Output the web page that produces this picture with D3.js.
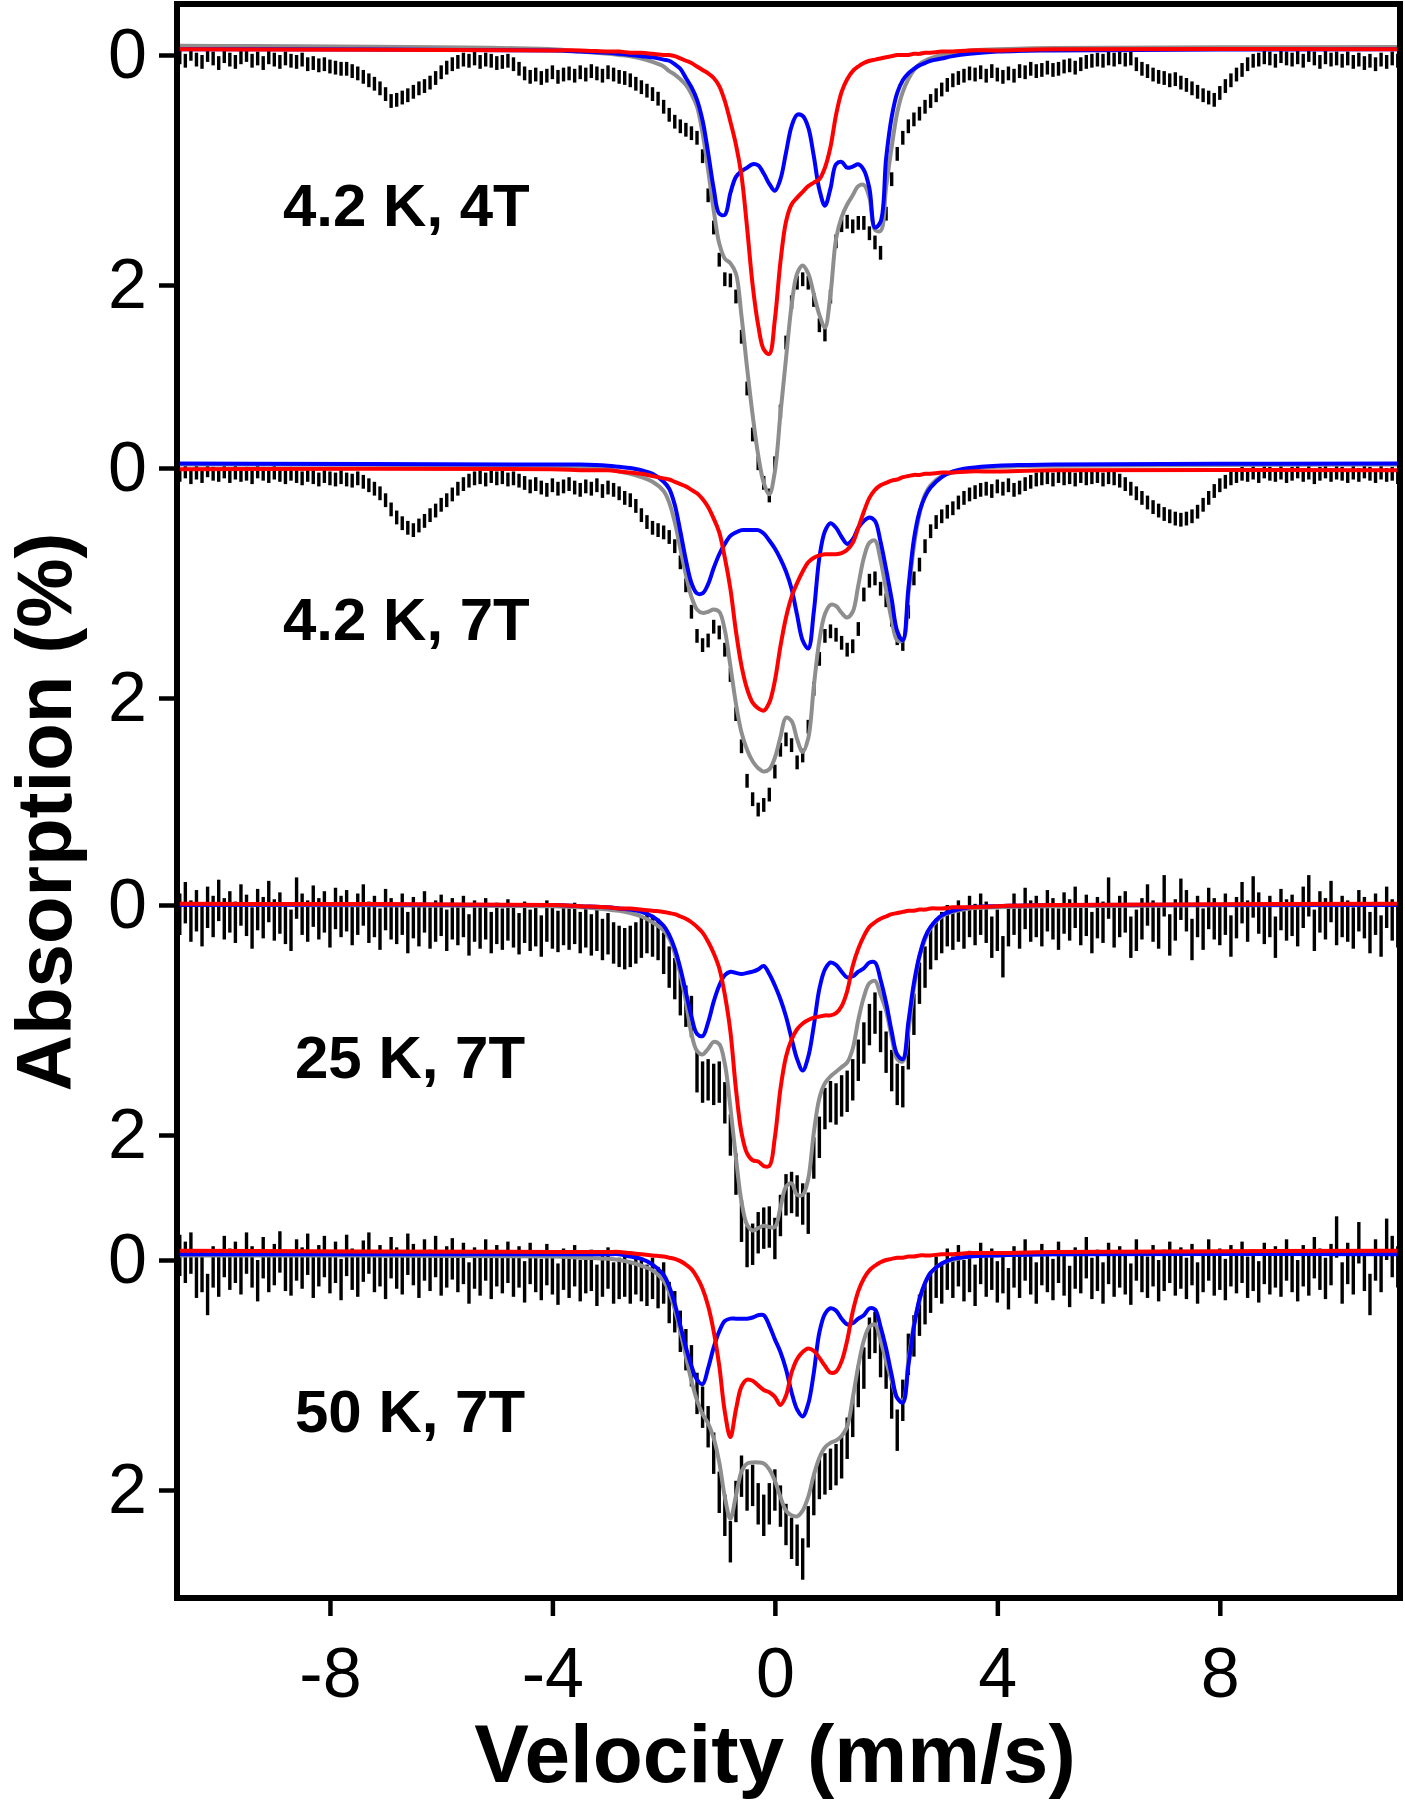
<!DOCTYPE html>
<html>
<head>
<meta charset="utf-8">
<script src="https://cdn.jsdelivr.net/npm/d3@7"></script>
<style>
  body { margin: 0; background: #fff; }
  svg { display: block; }
</style>
</head>
<body>
<div id="container"></div>
<script>
const width = 1405,
      height = 1800,
      frame = { left: 177, right: 1400, top: 4, bottom: 1598 };

const FONT = "'Liberation Sans', Arial, Helvetica, sans-serif";

// ---- data ----
const panelLabels = ["4.2 K, 4T", "4.2 K, 7T", "25 K, 7T", "50 K, 7T"];
const xTicks = [-8, -4, 0, 4, 8];
const yTicks = [0, 2];
const errorBar = [0.06, 0.06, 0.18, 0.18];   // half length of the bars (%)

// channel velocities (mm/s)
const velocity = [
  -10.7,-10.6,-10.5,-10.4,-10.3,-10.2,-10.1,-10.0,-9.9,-9.8,
  -9.7,-9.6,-9.5,-9.4,-9.3,-9.2,-9.1,-9.0,-8.9,-8.8,
  -8.7,-8.6,-8.5,-8.4,-8.3,-8.2,-8.1,-8.0,-7.9,-7.8,
  -7.7,-7.6,-7.5,-7.4,-7.3,-7.2,-7.1,-7.0,-6.9,-6.8,
  -6.7,-6.6,-6.5,-6.4,-6.3,-6.2,-6.1,-6.0,-5.9,-5.8,
  -5.7,-5.6,-5.5,-5.4,-5.3,-5.2,-5.1,-5.0,-4.9,-4.8,
  -4.7,-4.6,-4.5,-4.4,-4.3,-4.2,-4.1,-4.0,-3.9,-3.8,
  -3.7,-3.6,-3.5,-3.4,-3.3,-3.2,-3.1,-3.0,-2.9,-2.8,
  -2.7,-2.6,-2.5,-2.4,-2.3,-2.2,-2.1,-2.0,-1.9,-1.8,
  -1.7,-1.6,-1.5,-1.4,-1.3,-1.2,-1.1,-1.0,-0.9,-0.8,
  -0.7,-0.6,-0.5,-0.4,-0.3,-0.2,-0.1,0.0,0.1,0.2,
  0.3,0.4,0.5,0.6,0.7,0.8,0.9,1.0,1.1,1.2,
  1.3,1.4,1.5,1.6,1.7,1.8,1.9,2.0,2.1,2.2,
  2.3,2.4,2.5,2.6,2.7,2.8,2.9,3.0,3.1,3.2,
  3.3,3.4,3.5,3.6,3.7,3.8,3.9,4.0,4.1,4.2,
  4.3,4.4,4.5,4.6,4.7,4.8,4.9,5.0,5.1,5.2,
  5.3,5.4,5.5,5.6,5.7,5.8,5.9,6.0,6.1,6.2,
  6.3,6.4,6.5,6.6,6.7,6.8,6.9,7.0,7.1,7.2,
  7.3,7.4,7.5,7.6,7.7,7.8,7.9,8.0,8.1,8.2,
  8.3,8.4,8.5,8.6,8.7,8.8,8.9,9.0,9.1,9.2,
  9.3,9.4,9.5,9.6,9.7,9.8,9.9,10.0,10.1,10.2,
  10.3,10.4,10.5,10.6,10.7,10.8,10.9,11.0,11.1,11.2
];

// measured absorption (%)
const data42K4T = [
  0.02,0.05,-0.01,0.04,0.06,0.00,0.03,0.07,0.01,0.04,
  0.06,0.02,0.00,0.05,0.03,0.07,0.02,0.04,0.06,0.03,
  0.05,0.06,0.04,0.08,0.07,0.09,0.08,0.10,0.11,0.12,
  0.12,0.14,0.16,0.19,0.22,0.25,0.29,0.34,0.40,0.39,
  0.37,0.35,0.32,0.29,0.27,0.24,0.20,0.15,0.11,0.08,
  0.06,0.04,0.05,0.03,0.06,0.04,0.05,0.07,0.06,0.05,
  0.08,0.12,0.16,0.19,0.17,0.20,0.18,0.15,0.19,0.17,
  0.16,0.18,0.15,0.17,0.14,0.16,0.18,0.15,0.17,0.19,
  0.20,0.22,0.25,0.28,0.31,0.34,0.38,0.45,0.52,0.58,
  0.62,0.65,0.68,0.72,0.88,1.22,1.50,1.78,1.95,1.96,
  2.10,2.45,2.90,3.30,3.55,3.72,3.83,3.55,3.10,2.50,
  2.15,1.98,1.95,1.98,2.13,2.35,2.43,2.10,1.62,1.48,
  1.45,1.49,1.46,1.46,1.55,1.63,1.72,1.38,1.08,0.86,
  0.72,0.62,0.56,0.51,0.45,0.40,0.35,0.30,0.26,0.22,
  0.20,0.18,0.16,0.17,0.15,0.18,0.14,0.17,0.19,0.16,
  0.18,0.14,0.15,0.12,0.14,0.13,0.11,0.13,0.12,0.10,
  0.09,0.11,0.08,0.06,0.05,0.04,0.05,0.03,0.04,0.02,
  0.04,0.03,0.08,0.12,0.14,0.17,0.19,0.20,0.22,0.21,
  0.24,0.26,0.29,0.32,0.35,0.37,0.39,0.33,0.27,0.22,
  0.17,0.13,0.08,0.05,0.04,0.02,0.03,0.05,0.01,0.03,
  0.04,0.02,0.05,0.00,0.03,0.06,0.02,0.04,0.03,0.05,
  0.03,0.06,0.04,0.07,0.05,0.08,0.04,0.06,0.03,0.05
];
const data42K7T = [
  0.06,0.03,0.08,0.04,0.07,0.02,0.05,0.06,0.03,0.07,
  0.04,0.06,0.05,0.08,0.03,0.05,0.07,0.04,0.06,0.08,
  0.05,0.07,0.09,0.06,0.08,0.10,0.07,0.09,0.10,0.08,
  0.10,0.11,0.09,0.12,0.15,0.18,0.22,0.28,0.36,0.43,
  0.48,0.52,0.54,0.50,0.46,0.41,0.37,0.32,0.28,0.23,
  0.18,0.14,0.11,0.09,0.08,0.10,0.07,0.09,0.08,0.10,
  0.09,0.11,0.13,0.16,0.14,0.17,0.19,0.15,0.18,0.16,
  0.14,0.17,0.19,0.16,0.18,0.15,0.20,0.17,0.19,0.22,
  0.26,0.28,0.33,0.41,0.47,0.52,0.54,0.56,0.60,0.68,
  0.82,1.02,1.25,1.46,1.54,1.50,1.38,1.43,1.58,1.80,
  2.14,2.42,2.72,2.88,2.97,2.93,2.84,2.64,2.45,2.36,
  2.41,2.56,2.50,2.25,1.92,1.66,1.46,1.42,1.45,1.52,
  1.58,1.55,1.40,1.10,0.98,0.96,1.05,1.15,1.32,1.48,
  1.53,1.25,0.96,0.84,0.68,0.55,0.47,0.42,0.38,0.35,
  0.30,0.26,0.23,0.21,0.19,0.18,0.20,0.16,0.18,0.15,
  0.19,0.17,0.14,0.12,0.10,0.09,0.08,0.10,0.07,0.09,
  0.08,0.10,0.07,0.09,0.08,0.07,0.10,0.08,0.09,0.11,
  0.14,0.18,0.22,0.26,0.30,0.34,0.37,0.40,0.42,0.44,
  0.45,0.44,0.42,0.38,0.32,0.26,0.20,0.15,0.12,0.09,
  0.07,0.05,0.06,0.04,0.07,0.03,0.05,0.06,0.04,0.07,
  0.05,0.03,0.06,0.04,0.08,0.05,0.03,0.06,0.04,0.05,
  0.07,0.04,0.06,0.03,0.05,0.07,0.04,0.06,0.05,0.08
];
const data25K7T = [
  0.08,-0.02,0.14,0.05,0.18,0.02,0.10,-0.04,0.12,0.06,
  0.15,0.00,0.09,0.20,0.04,0.11,-0.03,0.13,0.07,0.16,
  0.22,-0.06,0.08,0.14,0.01,0.12,0.06,0.19,0.03,0.10,
  0.05,0.17,0.08,0.00,0.15,0.10,0.21,0.04,0.12,0.16,
  0.08,0.24,0.11,0.18,0.06,0.20,0.14,0.09,0.22,0.12,
  0.17,0.10,0.26,0.14,0.20,0.12,0.24,0.16,0.21,0.13,
  0.19,0.25,0.15,0.22,0.18,0.27,0.14,0.20,0.23,0.17,
  0.21,0.16,0.24,0.19,0.26,0.22,0.30,0.25,0.33,0.36,
  0.38,0.36,0.33,0.28,0.24,0.27,0.30,0.42,0.54,0.64,
  0.78,0.88,0.97,1.45,1.54,1.52,1.56,1.54,1.72,2.00,
  2.34,2.75,2.97,2.95,2.85,2.81,2.80,2.90,2.70,2.52,
  2.50,2.53,2.60,2.68,2.20,2.02,1.77,1.71,1.73,1.66,
  1.62,1.52,1.35,1.20,1.04,0.94,1.10,1.28,1.44,1.56,
  1.58,1.25,0.95,0.68,0.54,0.38,0.30,0.24,0.18,0.21,
  0.14,0.20,0.10,0.17,0.08,0.15,0.28,0.22,0.45,0.18,
  0.08,0.20,0.03,0.14,0.10,0.18,0.05,0.12,0.21,0.07,
  0.13,0.02,0.17,0.09,0.24,0.11,0.15,-0.06,0.19,0.10,
  0.06,0.28,0.22,0.12,0.00,0.14,0.20,-0.08,0.26,0.13,
  -0.05,0.05,0.30,0.10,0.21,0.03,0.12,0.17,0.08,0.27,
  0.11,-0.02,0.14,-0.07,0.07,0.16,0.10,0.28,0.04,0.13,
  0.09,0.18,0.02,-0.08,0.22,0.06,0.12,-0.03,0.17,0.10,
  0.14,0.20,0.05,0.11,0.24,0.08,0.27,0.02,0.13,0.19
];
const data50K7T = [
  -0.04,0.02,-0.06,0.15,0.10,0.30,0.06,0.14,-0.03,0.08,
  0.02,0.12,-0.06,0.06,0.18,-0.02,0.10,0.04,-0.07,0.09,
  0.13,0.00,0.07,-0.05,0.15,0.05,-0.03,0.11,0.02,0.17,
  -0.04,0.08,0.14,0.01,-0.06,0.10,0.05,0.16,-0.02,0.07,
  0.12,-0.05,0.04,0.15,0.00,0.09,-0.03,0.13,0.06,-0.01,
  0.10,0.03,0.20,0.07,0.13,0.00,0.16,0.05,0.11,0.02,
  0.14,0.06,0.19,0.03,0.10,0.17,0.04,0.12,0.21,0.08,
  0.15,0.05,0.18,0.11,0.09,0.22,0.14,0.07,0.20,0.16,
  0.14,0.20,0.12,0.18,0.22,0.16,0.24,0.20,0.37,0.45,
  0.62,0.78,0.92,1.16,1.28,1.45,1.68,2.02,2.22,2.45,
  2.10,1.88,2.00,1.96,2.12,2.22,2.12,2.00,2.14,2.30,
  2.42,2.48,2.60,2.32,2.04,1.90,1.86,1.82,1.78,1.72,
  1.55,1.36,1.10,0.94,0.68,0.63,0.84,0.94,1.20,1.48,
  1.22,0.82,0.66,0.48,0.38,0.28,0.15,0.20,0.08,0.15,
  0.05,0.18,0.10,0.22,0.03,0.14,0.08,0.19,0.11,0.25,
  0.06,0.15,0.00,0.12,0.20,0.04,0.10,0.17,0.02,0.13,
  0.23,0.07,0.11,-0.02,0.16,0.09,0.20,0.03,0.14,0.06,
  0.12,0.21,0.00,0.10,0.15,0.05,0.18,0.09,0.02,0.13,
  0.07,0.16,0.04,0.20,0.10,0.00,0.13,0.08,0.17,0.05,
  0.11,0.02,0.15,0.09,0.19,0.03,0.12,0.06,0.14,0.00,
  0.10,0.18,0.05,0.13,-0.02,0.08,0.16,0.04,-0.20,0.20,
  0.03,0.12,-0.15,0.09,0.30,0.00,0.10,-0.18,-0.03,0.06
];

// fit curves, read at these velocities (mm/s)
const fitVelocity = [
  -10.75,-4.0,-3.5,-3.0,-2.8,-2.6,-2.4,-2.2,
  -2.0,-1.9,-1.8,-1.7,-1.6,-1.5,-1.4,-1.3,-1.2,-1.1,
  -1.0,-0.9,-0.8,-0.7,-0.6,-0.5,-0.4,-0.3,-0.2,-0.1,
  0.0,0.1,0.2,0.3,0.4,0.5,0.6,0.7,0.8,0.9,
  1.0,1.1,1.2,1.3,1.4,1.5,1.6,1.7,1.8,1.9,
  2.0,2.1,2.2,2.3,2.4,2.5,2.6,2.7,2.8,
  3.0,3.2,3.5,4.0,5.0,11.25
];

const total42K4T = [
  -0.08,-0.05,-0.03,-0.01,0.00,0.01,0.03,0.06,
  0.10,0.14,0.17,0.21,0.26,0.34,0.45,0.68,1.00,1.35,
  1.64,1.77,1.81,1.90,2.27,2.72,3.13,3.48,3.72,3.82,
  3.62,3.12,2.64,2.18,1.90,1.83,1.90,2.08,2.26,2.37,
  2.08,1.60,1.41,1.30,1.22,1.14,1.13,1.24,1.52,1.53,
  1.15,0.80,0.50,0.32,0.21,0.13,0.08,0.05,0.03,
  0.00,-0.02,-0.04,-0.05,-0.06,-0.07
];
const siteA42K4T = [   // blue
  -0.05,-0.04,-0.03,-0.02,-0.01,0.00,0.01,0.02,
  0.04,0.05,0.08,0.12,0.20,0.28,0.39,0.57,0.85,1.16,
  1.38,1.39,1.20,1.06,1.01,0.98,0.95,0.96,1.03,1.12,
  1.18,1.08,0.85,0.62,0.52,0.53,0.63,0.88,1.17,1.31,
  1.16,0.95,0.93,0.98,0.97,0.95,1.00,1.16,1.50,1.45,
  0.90,0.54,0.33,0.22,0.16,0.12,0.09,0.07,0.05,
  0.03,0.01,-0.01,-0.03,-0.04,-0.05
];
const siteB42K4T = [   // red
  -0.05,-0.04,-0.04,-0.03,-0.03,-0.02,-0.02,-0.01,
  0.00,0.00,0.01,0.03,0.05,0.07,0.10,0.13,0.16,0.20,
  0.27,0.40,0.58,0.78,1.05,1.50,2.00,2.35,2.56,2.60,
  2.30,1.80,1.45,1.30,1.24,1.19,1.14,1.11,1.08,0.98,
  0.80,0.52,0.32,0.21,0.14,0.10,0.07,0.05,0.04,0.03,
  0.02,0.01,0.00,0.00,0.00,-0.01,-0.01,-0.02,-0.02,
  -0.03,-0.03,-0.04,-0.04,-0.05,-0.05
];

const total42K7T = [
  -0.03,-0.02,-0.01,0.01,0.03,0.05,0.08,0.12,
  0.20,0.30,0.47,0.70,0.93,1.12,1.23,1.26,1.25,1.23,
  1.25,1.41,1.72,2.05,2.30,2.45,2.55,2.61,2.64,2.62,
  2.52,2.34,2.17,2.20,2.36,2.47,2.35,1.90,1.50,1.27,
  1.19,1.20,1.26,1.30,1.25,1.02,0.78,0.65,0.63,0.80,
  1.06,1.32,1.50,1.50,1.10,0.68,0.40,0.23,0.15,
  0.07,0.04,0.01,-0.01,-0.02,-0.03
];
const siteA42K7T = [
  -0.04,-0.03,-0.03,-0.02,-0.01,0.00,0.02,0.05,
  0.12,0.18,0.32,0.55,0.80,1.00,1.09,1.09,1.01,0.87,
  0.75,0.66,0.59,0.56,0.54,0.54,0.54,0.54,0.57,0.63,
  0.70,0.79,0.90,1.05,1.28,1.50,1.57,1.25,0.78,0.55,
  0.48,0.52,0.60,0.66,0.62,0.52,0.46,0.43,0.46,0.64,
  0.88,1.14,1.42,1.50,1.05,0.62,0.38,0.25,0.17,
  0.08,0.03,0.00,-0.02,-0.03,-0.04
];
const siteB42K7T = [
  0.01,0.01,0.02,0.02,0.03,0.04,0.05,0.07,
  0.09,0.10,0.12,0.14,0.16,0.19,0.22,0.27,0.34,0.44,
  0.56,0.78,1.05,1.42,1.72,1.92,2.04,2.09,2.11,2.04,
  1.85,1.55,1.30,1.12,1.00,0.90,0.82,0.78,0.76,0.75,
  0.75,0.75,0.74,0.71,0.65,0.52,0.38,0.26,0.19,0.15,
  0.13,0.11,0.10,0.08,0.07,0.06,0.06,0.05,0.05,
  0.04,0.04,0.03,0.03,0.02,0.02
];

const total25K7T = [
  0.00,0.01,0.02,0.04,0.05,0.07,0.10,0.15,
  0.22,0.29,0.42,0.60,0.84,1.12,1.27,1.30,1.25,1.19,
  1.21,1.38,1.76,2.20,2.58,2.78,2.83,2.81,2.79,2.80,
  2.80,2.63,2.45,2.42,2.52,2.52,2.38,1.98,1.68,1.55,
  1.49,1.45,1.41,1.37,1.25,1.00,0.80,0.68,0.66,0.78,
  0.92,1.15,1.34,1.36,1.10,0.72,0.45,0.30,0.20,
  0.10,0.06,0.03,0.02,0.01,0.00
];
const siteA25K7T = [
  0.00,0.00,0.01,0.02,0.03,0.04,0.06,0.10,
  0.18,0.26,0.38,0.55,0.76,0.97,1.12,1.14,1.02,0.84,
  0.70,0.61,0.58,0.59,0.60,0.59,0.58,0.56,0.53,0.60,
  0.70,0.82,0.97,1.16,1.34,1.44,1.32,1.05,0.73,0.56,
  0.50,0.52,0.58,0.63,0.62,0.58,0.55,0.50,0.50,0.65,
  0.85,1.10,1.30,1.34,1.02,0.68,0.44,0.28,0.19,
  0.09,0.05,0.02,0.01,0.00,0.00
];
const siteB25K7T = [
  -0.01,0.00,0.01,0.02,0.03,0.03,0.04,0.05,
  0.06,0.07,0.08,0.10,0.12,0.15,0.19,0.24,0.32,0.42,
  0.55,0.78,1.10,1.60,1.98,2.16,2.22,2.23,2.27,2.27,
  2.02,1.60,1.32,1.17,1.08,1.03,1.00,0.98,0.97,0.96,
  0.96,0.94,0.88,0.75,0.53,0.38,0.27,0.19,0.15,0.12,
  0.10,0.08,0.07,0.06,0.05,0.05,0.04,0.04,0.03,
  0.03,0.02,0.02,0.01,0.00,-0.01
];

const total50K7T = [
  -0.04,-0.03,-0.02,-0.01,0.00,0.02,0.05,0.09,
  0.18,0.28,0.43,0.62,0.84,1.05,1.22,1.34,1.42,1.55,
  1.76,2.06,2.25,2.05,1.84,1.77,1.76,1.76,1.77,1.82,
  1.92,2.06,2.18,2.22,2.23,2.18,2.06,1.87,1.72,1.63,
  1.59,1.57,1.53,1.45,1.20,0.92,0.70,0.58,0.56,0.70,
  0.88,1.05,1.20,1.22,0.88,0.56,0.35,0.20,0.11,
  0.03,0.00,-0.03,-0.04,-0.05,-0.06
];
const siteA50K7T = [
  -0.05,-0.05,-0.05,-0.05,-0.05,-0.03,-0.01,0.04,
  0.13,0.23,0.38,0.57,0.76,0.92,1.04,1.08,0.94,0.76,
  0.62,0.53,0.51,0.51,0.51,0.51,0.50,0.48,0.48,0.57,
  0.69,0.80,0.95,1.15,1.30,1.36,1.25,0.98,0.63,0.47,
  0.42,0.44,0.51,0.56,0.55,0.51,0.48,0.42,0.43,0.58,
  0.77,1.00,1.20,1.24,0.92,0.58,0.34,0.20,0.11,
  0.03,-0.01,-0.03,-0.04,-0.05,-0.05
];
const siteB50K7T = [
  -0.08,-0.07,-0.07,-0.07,-0.07,-0.06,-0.05,-0.04,
  -0.03,-0.02,-0.01,0.01,0.04,0.08,0.15,0.25,0.40,0.62,
  0.92,1.32,1.54,1.30,1.10,1.04,1.05,1.09,1.13,1.15,
  1.19,1.26,1.18,0.98,0.86,0.80,0.77,0.79,0.85,0.92,
  0.98,0.97,0.88,0.70,0.45,0.27,0.16,0.09,0.05,0.02,
  0.00,-0.01,-0.02,-0.02,-0.03,-0.03,-0.04,-0.04,-0.04,
  -0.05,-0.05,-0.06,-0.06,-0.07,-0.08
];

const panels = [
  { data: data42K4T, total: total42K4T, siteA: siteA42K4T, siteB: siteB42K4T },
  { data: data42K7T, total: total42K7T, siteA: siteA42K7T, siteB: siteB42K7T },
  { data: data25K7T, total: total25K7T, siteA: siteA25K7T, siteB: siteB25K7T },
  { data: data50K7T, total: total50K7T, siteA: siteA50K7T, siteB: siteB50K7T }
];

// ---- layout ----
const panelZero = [55, 468, 905, 1260];       // pixel row of 0 % in each panel
const pxPerPercent = 115;
const labelPos = [[283, 226], [283, 640], [295, 1078], [295, 1432]];

const svg = d3.select("#container").append("svg")
    .attr("width", width)
    .attr("height", height)
    .style("font-family", FONT);

svg.append("rect")
    .attr("width", width).attr("height", height)
    .attr("fill", "#fff");

svg.append("clipPath")
    .attr("id", "plotArea")
  .append("rect")
    .attr("x", frame.left + 3)
    .attr("y", frame.top + 3)
    .attr("width", frame.right - frame.left - 6)
    .attr("height", frame.bottom - frame.top - 6);

const x = d3.scaleLinear()
    .domain([-10.75, 11.24])
    .range([frame.left, frame.right]);

function styleAxis(g) {
    g.select(".domain").remove();
    g.attr("font-family", FONT).attr("font-size", 70);
    g.selectAll(".tick line").attr("stroke", "#000").attr("stroke-width", 4.5);
    g.selectAll(".tick text").attr("fill", "#000");
}

const plot = svg.append("g").attr("clip-path", "url(#plotArea)");

panels.forEach(function(p, i) {
    const y = d3.scaleLinear()
        .domain([0, 2])
        .range([panelZero[i], panelZero[i] + 2 * pxPerPercent]);

    // data points with error bars
    plot.append("g")
        .selectAll("line")
        .data(p.data.map(function(a, j) { return [velocity[j], a]; }))
        .enter().append("line")
        .attr("x1", function(d) { return x(d[0]); })
        .attr("x2", function(d) { return x(d[0]); })
        .attr("y1", function(d) { return y(d[1] - errorBar[i]); })
        .attr("y2", function(d) { return y(d[1] + errorBar[i]); })
        .attr("stroke", "#000")
        .attr("stroke-width", 3.4);

    const line = d3.line()
        .x(function(d, j) { return x(fitVelocity[j]); })
        .y(function(d) { return y(d); })
        .curve(d3.curveCatmullRom.alpha(0.5));

    [[p.total, "#8e8e8e"], [p.siteA, "#0000ff"], [p.siteB, "#ff0000"]].forEach(function(c) {
        plot.append("path")
            .datum(c[0])
            .attr("d", line)
            .attr("fill", "none")
            .attr("stroke", c[1])
            .attr("stroke-width", 4)
            .attr("stroke-linejoin", "round");
    });

    // y ticks for this panel
    svg.append("g")
        .attr("transform", `translate(${frame.left}, 0)`)
        .call(d3.axisLeft(y).tickValues(yTicks).tickSize(18).tickPadding(12)
            .tickFormat(function(d) { return String(d); }))
        .call(styleAxis);

    svg.append("text")
        .attr("x", labelPos[i][0])
        .attr("y", labelPos[i][1])
        .attr("font-size", 60)
        .attr("font-weight", "bold")
        .text(panelLabels[i]);
});

// x-axis
svg.append("g")
    .attr("transform", `translate(0, ${frame.bottom})`)
    .call(d3.axisBottom(x).tickValues(xTicks).tickSize(18).tickPadding(31)
        .tickFormat(function(d) { return String(d); }))
    .call(styleAxis);

// frame
svg.append("rect")
    .attr("x", frame.left)
    .attr("y", frame.top)
    .attr("width", frame.right - frame.left)
    .attr("height", frame.bottom - frame.top)
    .attr("fill", "none")
    .attr("stroke", "#000")
    .attr("stroke-width", 6);

// axis titles
svg.append("text")
    .attr("x", 775)
    .attr("y", 1782)
    .attr("text-anchor", "middle")
    .attr("font-size", 82)
    .attr("font-weight", "bold")
    .text("Velocity (mm/s)");

svg.append("text")
    .attr("transform", "translate(71, 812) rotate(-90)")
    .attr("text-anchor", "middle")
    .attr("font-size", 78)
    .attr("font-weight", "bold")
    .text("Absorption (%)");
</script>
</body>
</html>
